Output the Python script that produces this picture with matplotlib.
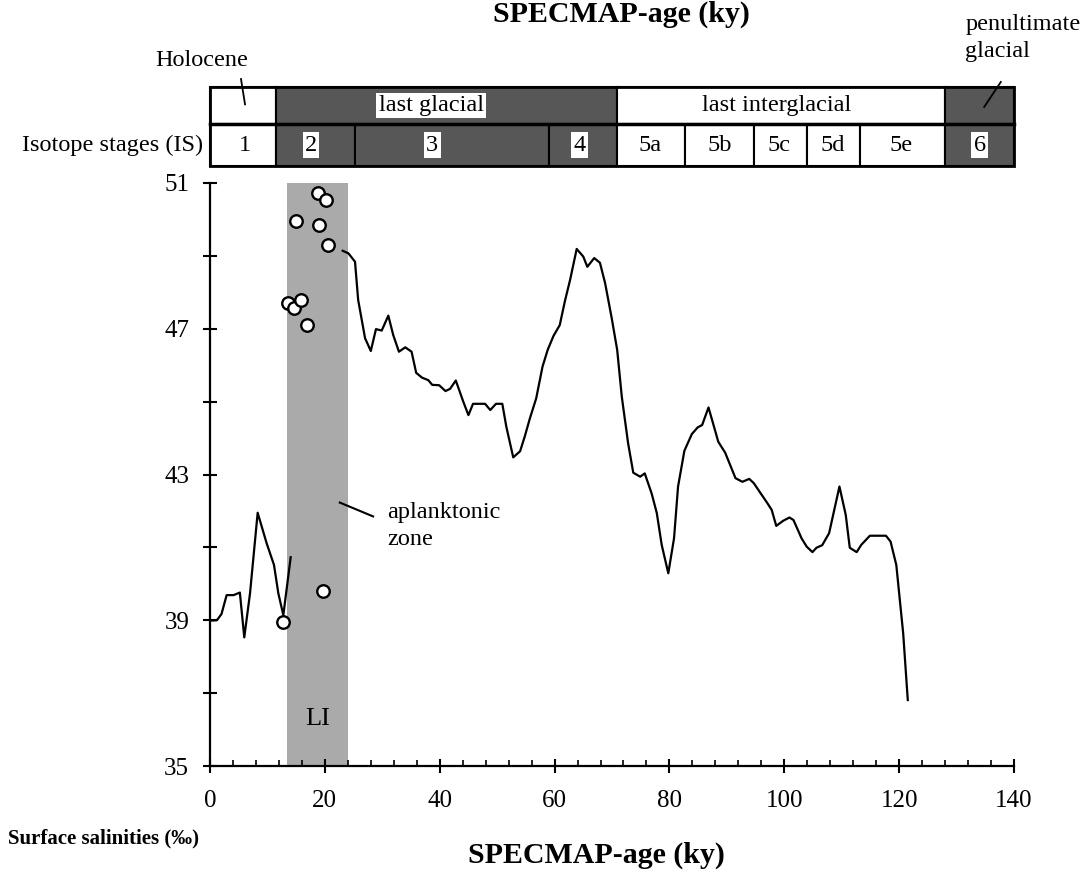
import matplotlib
matplotlib.use("Agg")
import matplotlib.pyplot as plt
from matplotlib.patches import Rectangle
from matplotlib.ticker import MultipleLocator, FixedLocator

plt.rcParams['font.family'] = ['Liberation Serif', 'DejaVu Serif']

# salinity record, Holocene part (ky, permil)
holo_age = [0, 1.2, 2.0, 2.9, 4.1, 5.2, 5.97, 6.97, 8.3, 9.87, 11.14, 11.9, 12.77, 14.05]
holo_sal = [38.99, 39.0, 39.17, 39.69, 39.69, 39.76, 38.53, 39.74, 41.95, 41.11, 40.52, 39.74, 39.14, 40.73]

# salinity record below the aplanktonic zone
deep_age = [23.1, 24.1, 25.25, 25.8, 27.0, 28.0, 28.9, 29.9, 31.05, 31.9, 32.9, 34.0, 35.1, 35.9,
            36.9, 38.0, 38.7, 39.9, 41.0, 41.8, 42.8, 44.1, 45.0, 45.8, 47.9, 48.8, 49.8, 50.9,
            51.6, 52.8, 54.0, 54.8, 55.7, 56.8, 57.9, 58.8, 59.8, 60.9, 61.8, 62.7, 63.85, 65.0,
            65.7, 66.9, 67.9, 68.8, 69.95, 70.9, 71.7, 72.8, 73.7, 74.9, 75.7, 76.9, 77.8, 78.65,
            79.8, 80.8, 81.5, 82.6, 83.9, 84.9, 85.7, 86.8, 87.6, 88.5, 89.7, 91.5, 92.7, 93.9,
            94.7, 95.9, 96.9, 97.8, 98.6, 99.8, 100.9, 101.6, 103.0, 103.9, 104.9, 105.6, 106.6,
            107.8, 109.6, 110.7, 111.4, 112.6, 113.4, 114.9, 117.7, 118.5, 119.5, 120.7, 121.5]
deep_sal = [49.14, 49.07, 48.84, 47.79, 46.74, 46.39, 46.99, 46.95, 47.36, 46.83, 46.37, 46.49,
            46.37, 45.79, 45.66, 45.59, 45.46, 45.45, 45.29, 45.35, 45.58, 45.0, 44.63, 44.94,
            44.94, 44.77, 44.94, 44.94, 44.31, 43.47, 43.64, 44.04, 44.54, 45.09, 45.96, 46.42,
            46.80, 47.10, 47.76, 48.34, 49.19, 48.98, 48.70, 48.94, 48.81, 48.25, 47.29, 46.42,
            45.14, 43.86, 43.05, 42.94, 43.03, 42.48, 41.94, 41.07, 40.29, 41.25, 42.67, 43.65,
            44.11, 44.29, 44.36, 44.84, 44.40, 43.90, 43.60, 42.90, 42.80, 42.88, 42.76, 42.48,
            42.25, 42.03, 41.59, 41.73, 41.82, 41.75, 41.25, 41.02, 40.87, 40.99, 41.06, 41.39,
            42.67, 41.89, 40.99, 40.87, 41.07, 41.32, 41.32, 41.16, 40.52, 38.64, 36.81]

# single measurements (open circles)
pt_age = [18.8, 20.2, 15.0, 19.0, 20.5, 13.6, 14.6, 15.8, 16.9, 19.7, 12.7]
pt_sal = [50.73, 50.53, 49.96, 49.85, 49.30, 47.71, 47.57, 47.79, 47.10, 39.80, 38.95]

# aplanktonic zone LI
li_zone = (13.4, 24.0)

# isotope stage header
stage_edges = [0, 11.5, 25.2, 59.1, 70.8, 82.7, 94.8, 103.9, 113.2, 127.9, 140]
stage_names = ['1', '2', '3', '4', '5a', '5b', '5c', '5d', '5e', '6']
stage_dark = [False, True, True, True, False, False, False, False, False, True]
stage_label_x = [6.0, 17.6, 38.7, 64.3, 76.6, 88.8, 99.0, 108.5, 120.4, 134.0]

period_edges = [0, 11.5, 70.8, 127.9, 140]
period_names = ['', 'last glacial', 'last interglacial', '']
period_dark = [False, True, False, True]
period_label_x = [6.0, 38.5, 98.7, 134.0]

dark = '#575757'
fs = 17.5

fig = plt.figure(figsize=(10.92, 8.81), dpi=100)
ax = fig.add_axes([0.1923, 0.1305, 0.7363, 0.6618])
axh = fig.add_axes([0.1923, 0.8116, 0.7363, 0.0897])

# main panel
ax.axvspan(li_zone[0], li_zone[1], color='#aaaaaa', lw=0, zorder=0)
ax.plot(holo_age, holo_sal, color='black', lw=1.6, zorder=2)
ax.plot(deep_age, deep_sal, color='black', lw=1.6, zorder=2)
ax.plot(pt_age, pt_sal, 'o', ms=9, mfc='white', mec='black', mew=1.7, zorder=3, clip_on=False)

ax.set_xlim(0, 140)
ax.set_ylim(35, 51)
for s in ['top', 'right']:
    ax.spines[s].set_visible(False)
for s in ['left', 'bottom']:
    ax.spines[s].set_linewidth(1.6)

ax.xaxis.set_major_locator(MultipleLocator(20))
ax.xaxis.set_minor_locator(MultipleLocator(4))
ax.yaxis.set_major_locator(FixedLocator([35, 39, 43, 47, 51]))
ax.yaxis.set_minor_locator(FixedLocator([37, 41, 45, 49]))
ax.tick_params(axis='x', which='major', direction='inout', length=10, width=1.5,
               labelsize=18, pad=12)
ax.tick_params(axis='x', which='minor', direction='in', length=4, width=1.2)
ax.tick_params(axis='y', which='both', direction='inout', length=10, width=1.5,
               labelsize=18, pad=10)

ax.text(18.7, 36.3, 'LI', fontsize=19, ha='center', va='center')
ax.plot([22.6, 28.4], [42.23, 41.85], color='black', lw=1.5)
ax.text(30.8, 41.97, 'aplanktonic', fontsize=fs, ha='left', va='center')
ax.text(30.8, 41.23, 'zone', fontsize=fs, ha='left', va='center')

# header panel
axh.set_xlim(0, 140)
axh.set_ylim(0, 1)
axh.axis('off')
mid = 0.53
for i, name in enumerate(stage_names):
    x0, x1 = stage_edges[i], stage_edges[i + 1]
    axh.add_patch(Rectangle((x0, 0), x1 - x0, mid, facecolor=dark if stage_dark[i] else 'white',
                            edgecolor='black', lw=1.5, clip_on=False))
    box = dict(facecolor='white', edgecolor='none', pad=1.5) if stage_dark[i] else None
    axh.text(stage_label_x[i], mid / 2, name, fontsize=fs, ha='center', va='center', bbox=box)
for i, name in enumerate(period_names):
    x0, x1 = period_edges[i], period_edges[i + 1]
    axh.add_patch(Rectangle((x0, mid), x1 - x0, 1 - mid,
                            facecolor=dark if period_dark[i] else 'white',
                            edgecolor='black', lw=1.5, clip_on=False))
    if name:
        box = dict(facecolor='white', edgecolor='none', pad=1.5) if period_dark[i] else None
        axh.text(period_label_x[i], (1 + mid) / 2, name, fontsize=fs, ha='center',
                 va='center', bbox=box)
axh.plot([0, 140], [mid, mid], color='black', lw=2.5, clip_on=False)
axh.add_patch(Rectangle((0, 0), 140, 1, fill=False, edgecolor='black', lw=2, clip_on=False))

axh.text(-1.2, mid / 2, 'Isotope stages (IS)', fontsize=fs, ha='right', va='center')
axh.text(-1.4, 1.33, 'Holocene', fontsize=fs, ha='center', va='center')
axh.plot([5.4, 6.1], [1.10, 0.78], color='black', lw=1.3, clip_on=False)
axh.text(131.5, 1.785, 'penultimate', fontsize=fs, ha='left', va='center')
axh.text(131.5, 1.443, 'glacial', fontsize=fs, ha='left', va='center')
axh.plot([137.7, 134.8], [1.063, 0.747], color='black', lw=1.3, clip_on=False)

# figure texts
fig.text(0.569, 0.975, 'SPECMAP-age (ky)', fontsize=21.5, fontweight='bold',
         ha='center', va='baseline')
fig.text(0.546, 0.0295, 'SPECMAP-age (ky)', fontsize=21.5, fontweight='bold',
         ha='center', va='center')
fig.text(0.0073, 0.0488, 'Surface salinities (‰)', fontsize=15, fontweight='bold',
         ha='left', va='center')

fig.savefig('out.png', dpi=100)
